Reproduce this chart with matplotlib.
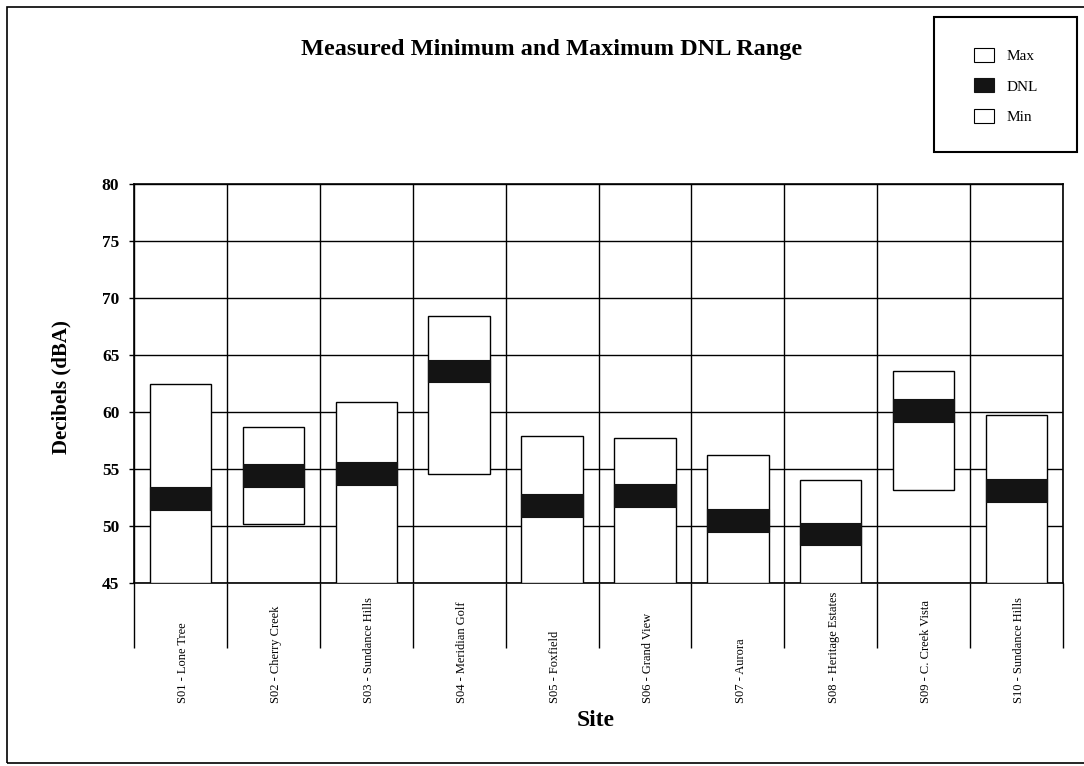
import numpy as np
import matplotlib
matplotlib.use('Agg')
import matplotlib.pyplot as plt
from matplotlib.patches import Rectangle, Patch
from matplotlib.transforms import blended_transform_factory

sites = ['S01 - Lone Tree', 'S02 - Cherry Creek', 'S03 - Sundance Hills',
         'S04 - Meridian Golf', 'S05 - Foxfield', 'S06 - Grand View',
         'S07 - Aurora', 'S08 - Heritage Estates', 'S09 - C. Creek Vista',
         'S10 - Sundance Hills']
max_db = [62.5, 58.7, 60.9, 68.4, 57.9, 57.7, 56.2, 54.0, 63.6, 59.7]
dnl_db = [52.4, 54.4, 54.6, 63.6, 51.8, 52.7, 50.5, 49.3, 60.1, 53.1]
min_db = [45.0, 50.2, 45.0, 54.6, 45.0, 45.0, 45.0, 45.0, 53.2, 45.0]
y_ticks = [45, 50, 55, 60, 65, 70, 75, 80]

band = 1.0  # half height of the DNL band

serif = 'Liberation Serif'
W, H = 1084, 766
fig = plt.figure(figsize=(W / 100, H / 100), dpi=100)
ax = fig.add_axes([134 / W, 1 - 583 / H, 929 / W, 399 / H])

x = np.arange(len(sites))
mx = np.array(max_db)
mn = np.array(min_db)
dn = np.array(dnl_db)

ax.bar(x, mx - mn, bottom=mn, width=0.66, color='white', edgecolor='black',
       linewidth=1.0, zorder=3)
ax.bar(x, 2 * band, bottom=dn - band, width=0.66, color='#141414',
       edgecolor='#141414', linewidth=0.8, zorder=4)

ax.set_xlim(-0.5, len(sites) - 0.5)
ax.set_ylim(45, 80)
ax.set_yticks(y_ticks)
ax.set_xticks(np.arange(len(sites) + 1) - 0.5)
ax.set_xticklabels([])
ax.set_axisbelow(True)
ax.grid(True, color='black', linewidth=1.0)
ax.tick_params(axis='x', length=47, width=1.0, direction='out', color='black')
ax.tick_params(axis='y', length=3.6, width=1.0, pad=7)
for lab in ax.get_yticklabels():
    lab.set_fontfamily(serif)
    lab.set_fontweight('bold')
    lab.set_fontsize(12.5)
for sp in ax.spines.values():
    sp.set_linewidth(1.2)

ax.set_ylabel('Decibels (dBA)', fontfamily=serif, fontweight='bold', fontsize=15)
ax.yaxis.set_label_coords(-0.067, 0.49)

tr = blended_transform_factory(ax.transData, ax.transAxes)
for i, s in enumerate(sites):
    ax.text(i + 0.03, -0.30, s, transform=tr, rotation=90, ha='center',
            va='bottom', fontfamily=serif, fontsize=9)

fig.text(596 / W, 1 - 721 / H, 'Site', ha='center', va='center',
         fontfamily=serif, fontweight='bold', fontsize=17)
fig.text(552 / W, 1 - 49 / H, 'Measured Minimum and Maximum DNL Range',
         ha='center', va='center', fontfamily=serif, fontweight='bold',
         fontsize=17.5)

# outer frame
fig.add_artist(Rectangle((7 / W, 3 / H), 1.1, 1 - 10 / H, transform=fig.transFigure,
                         fill=False, edgecolor='black', linewidth=1.2))

# legend box
fig.add_artist(Rectangle((934 / W, 1 - 152 / H), 143 / W, 135 / H,
                         transform=fig.transFigure, fill=False,
                         edgecolor='black', linewidth=1.5))
handles = [Patch(facecolor='white', edgecolor='black', linewidth=0.8),
           Patch(facecolor='#141414', edgecolor='#141414', linewidth=0.8),
           Patch(facecolor='white', edgecolor='black', linewidth=0.8)]
leg = fig.legend(handles, ['Max', 'DNL', 'Min'], loc='upper left',
                 bbox_to_anchor=(963 / W, 1 - 37 / H), frameon=False,
                 prop={'family': serif, 'size': 11}, handlelength=1.3,
                 handleheight=1.05, handletextpad=0.85, labelspacing=1.0,
                 borderpad=0.2)

fig.savefig('out.png', dpi=100)
